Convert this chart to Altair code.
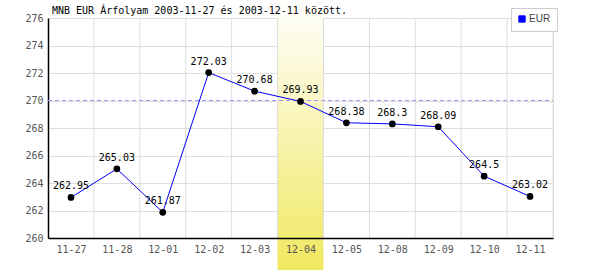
import altair as alt
import pandas as pd

dates = ["11-27", "11-28", "12-01", "12-02", "12-03", "12-04", "12-05", "12-08", "12-09", "12-10", "12-11"]
values = [262.95, 265.03, 261.87, 272.03, 270.68, 269.93, 268.38, 268.3, 268.09, 264.5, 263.02]
labels = ["262.95", "265.03", "261.87", "272.03", "270.68", "269.93", "268.38", "268.3", "268.09", "264.5", "263.02"]
highlight = "12-04"
avg_line = 270
y_ticks = [260, 262, 264, 266, 268, 270, 272, 274, 276]
title_text = "MNB EUR Árfolyam 2003-11-27 és 2003-12-11 között."

df = pd.DataFrame({"idx": list(range(len(dates))), "date": dates, "value": values, "label": labels, "series": "EUR"})
bounds = pd.DataFrame({"b": [i + 0.5 for i in range(len(dates))]})
hl = pd.DataFrame({"x": [dates.index(highlight) - 0.5], "x2": [dates.index(highlight) + 0.5]})

FONT = "DejaVu Sans Mono"
label_arr = "[" + ",".join("'%s'" % d for d in dates) + "]"

xscale = alt.Scale(domain=[-0.5, len(dates) - 0.5], nice=False, zero=False)
yscale = alt.Scale(domain=[260, 276], nice=False, zero=False)

x_axis = alt.Axis(values=list(range(len(dates))), labelExpr=label_arr + "[datum.value]", grid=False,
                  ticks=False, domainColor="black", domainWidth=1.5, labelColor="#555", labelFont=FONT,
                  labelFontSize=10, labelPadding=6, title=None, labelOverlap=False, zindex=2)
y_axis = alt.Axis(values=y_ticks, grid=True, gridColor="#dddddd", ticks=False,
                  domainColor="black", domainWidth=1.5, labelColor="#555", labelFont=FONT,
                  labelFontSize=10, labelPadding=5, title=None, labelOverlap=False, zindex=0)

band = alt.Chart(hl).mark_rect(
    clip=False,
    color=alt.Gradient(gradient="linear", x1=0, x2=0, y1=0, y2=1,
                       stops=[alt.GradientStop(color="#ffffff", offset=0),
                              alt.GradientStop(color="#f0e860", offset=1)])
).encode(x=alt.X("x:Q", scale=xscale, axis=x_axis), x2="x2:Q", y=alt.value(-18), y2=alt.value(252))

grid = alt.Chart(bounds).mark_rule(color="#dddddd", strokeWidth=1).encode(
    x=alt.X("b:Q", scale=xscale, axis=x_axis), y=alt.value(0), y2=alt.value(220))

avg = alt.Chart(pd.DataFrame({"v": [avg_line]})).mark_rule(color="#9999ff", strokeDash=[4, 3]).encode(
    y=alt.Y("v:Q", scale=yscale, axis=y_axis), x=alt.value(0), x2=alt.value(505))

line = alt.Chart(df).mark_line(strokeWidth=1).encode(
    x=alt.X("idx:Q", scale=xscale, axis=x_axis),
    y=alt.Y("value:Q", scale=yscale, axis=y_axis),
    color=alt.Color("series:N", scale=alt.Scale(domain=["EUR"], range=["#0000ff"]),
                    legend=alt.Legend(title=None, orient="none", legendX=463, legendY=-10,
                                      symbolType="square", symbolSize=40, symbolStrokeWidth=1,
                                      symbolFillColor="#0000ff", symbolStrokeColor="#0000ff",
                                      labelFont="Liberation Sans", labelFontSize=10, labelColor="#444",
                                      strokeColor="#cccccc", fillColor="white", padding=6,
                                      labelOffset=2)))

pts = alt.Chart(df).mark_circle(color="black", size=45, opacity=1).encode(
    x=alt.X("idx:Q", scale=xscale, axis=x_axis), y=alt.Y("value:Q", scale=yscale, axis=y_axis))

txt = alt.Chart(df).mark_text(font=FONT, fontSize=10, color="black", dy=-11, baseline="middle").encode(
    x=alt.X("idx:Q", scale=xscale, axis=x_axis), y=alt.Y("value:Q", scale=yscale, axis=y_axis), text="label:N")

title = alt.Chart(pd.DataFrame({"t": [title_text]})).mark_text(
    font=FONT, fontSize=10, color="black", align="left", baseline="alphabetic").encode(
    x=alt.value(4), y=alt.value(-4), text="t:N")

chart = alt.layer(band, grid, avg, line, pts, txt, title).properties(
    width=505, height=220,
    autosize=alt.AutoSizeParams(type="none"),
    padding={"left": 48, "top": 18, "right": 47, "bottom": 32}
).configure_view(stroke="#dddddd", strokeWidth=1).configure(background="white")

chart.save("out.html", embed_options={"renderer": "svg", "actions": False})
